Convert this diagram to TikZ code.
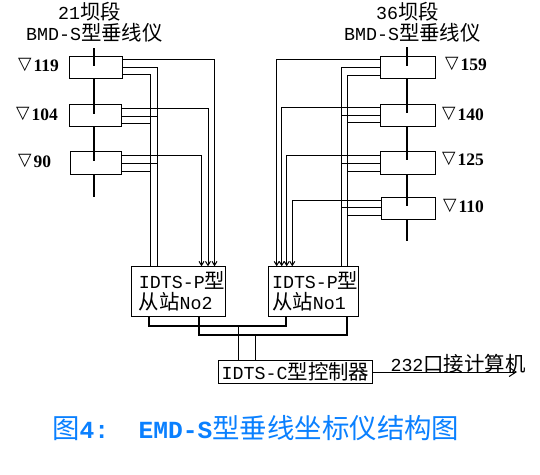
\documentclass[tikz,border=0pt]{standalone}
\usepackage{fontspec}
\setmainfont{Liberation Mono}
\newfontfamily\zhfont[Scale=1.115]{Noto Sans CJK SC}
\newfontfamily\levelfont{Liberation Serif}
\newfontfamily\trifont{DejaVu Sans}
\newcommand{\zh}[1]{{\zhfont #1}}
\newcommand{\lvl}[1]{\raisebox{1.5pt}{\trifont\symbol{"25BD}}\hspace{2pt}{\levelfont\bfseries #1}}
\usetikzlibrary{arrows.meta}
\definecolor{capblue}{RGB}{10,128,255}
\tikzset{
    txt/.style={inner sep=0pt, font=\fontsize{18.3}{21}\selectfont},
    level/.style={inner sep=0pt, font=\fontsize{17.5}{20}\selectfont},
    sensor/.style={draw, line width=1pt, inner sep=0pt, outer sep=0pt, minimum width=53pt, minimum height=22pt},
    station/.style={draw, line width=1pt, inner sep=0pt, outer sep=0pt, minimum height=50pt, align=left, font=\fontsize{18.3}{21}\selectfont},
    spine/.style={line width=2pt},
    wire/.style={line width=1pt},
    sink/.style={wire, -{Straight Barb[length=4pt,width=5pt]}},
    bus/.style={line width=2pt},
}
\begin{document}
\begin{tikzpicture}[x=1pt, y=-1pt]
    \useasboundingbox (0,0) rectangle (540,474);

    % headings
    \node[txt] (headLa) at (89.5,12) {21\zh{坝段}};
    \node[txt] (headLb) at (94.5,33) {BMD-S\zh{型垂线仪}};
    \node[txt] (headRa) at (407.5,12) {36\zh{坝段}};
    \node[txt] (headRb) at (412.5,33) {BMD-S\zh{型垂线仪}};

    % sensor boxes, 21
    \node[sensor] (s119) at (96,67.3) {};
    \node[sensor, minimum width=52pt] (s104) at (95.5,115.3) {};
    \node[sensor, minimum width=51pt, minimum height=23pt] (s90) at (96,162.8) {};

    % sensor boxes, 36
    \node[sensor, minimum width=55pt] (s159) at (408,67.3) {};
    \node[sensor, minimum width=55pt] (s140) at (408,115.3) {};
    \node[sensor, minimum width=55pt, minimum height=23pt] (s125) at (408,162.8) {};
    \node[sensor, minimum width=54pt] (s110) at (408.3,208.3) {};

    % level labels
    \node[level, anchor=west] (l119) at (18,65) {\lvl{119}};
    \node[level, anchor=west] (l104) at (16,114) {\lvl{104}};
    \node[level, anchor=west] (l90) at (18,161) {\lvl{90}};
    \node[level, anchor=west] (l159) at (445,64) {\lvl{159}};
    \node[level, anchor=west] (l140) at (442,114) {\lvl{140}};
    \node[level, anchor=west] (l125) at (442,159) {\lvl{125}};
    \node[level, anchor=west] (l110) at (443,206) {\lvl{110}};

    % stations and controller
    \node[station, minimum width=94.5pt] (no2) at (178.5,291.3) {\hspace{7pt}IDTS-P\zh{型}\hspace{3pt}\\\hspace{7pt}\zh{从站}No2};
    \node[station, minimum width=90pt] (no1) at (313.7,291.3) {\hspace{3pt}IDTS-P\zh{型}\\\hspace{3pt}\zh{从站}No1};
    \node[draw, line width=1pt, inner sep=0pt, outer sep=0pt, minimum width=154pt, minimum height=23pt, font=\fontsize{18.3}{21}\selectfont] (ctrl) at (295.5,371.5) {IDTS-C\zh{型控制器}};
    \node[txt] (pc) at (458,364) {232\zh{口接计算机}};
    \coordinate (pcEnd) at (517,372);

    % spines
    \draw[spine] (94,48) -- (94,66) (s119.south -| 94,0) -- (94,114) (s104.south -| 94,0) -- (94,161) (s90.south -| 94,0) -- (94,197);
    \draw[spine] (407,47) -- (407,66) (s159.south -| 407,0) -- (407,113) (s140.south -| 407,0) -- (407,160) (s125.south -| 407,0) -- (407,206) (s110.south -| 407,0) -- (407,241);

    % 21 wires
    \draw[wire] (s119.east |- 0,67.5) -| (no2.north -| 157,0);
    \draw[wire] (s119.east |- 0,74.5) -| (no2.north -| 150.5,0);
    \draw[wire] (s104.east |- 0,116.5) -- (157,116.5);
    \draw[wire] (s104.east |- 0,123.5) -- (150.5,123.5);
    \draw[wire] (s90.east |- 0,163.5) -- (157,163.5);
    \draw[wire] (s90.east |- 0,171) -- (150.5,171);
    \draw[sink] (s119.east |- 0,59.5) -| (no2.north -| 214.5,0);
    \draw[sink] (s104.east |- 0,108.5) -| (no2.north -| 208,0);
    \draw[sink] (s90.east |- 0,155.5) -| (no2.north -| 201.5,0);

    % 36 wires
    \draw[wire] (s159.west |- 0,67.5) -| (no1.north -| 341.7,0);
    \draw[wire] (s159.west |- 0,75.5) -| (no1.north -| 347.3,0);
    \draw[wire] (s140.west |- 0,115) -- (341.7,115);
    \draw[wire] (s140.west |- 0,122.5) -- (347.3,122.5);
    \draw[wire] (s125.west |- 0,163) -- (341.7,163);
    \draw[wire] (s125.west |- 0,171) -- (347.3,171);
    \draw[wire] (s110.west |- 0,207.5) -- (341.7,207.5);
    \draw[wire] (s110.west |- 0,215) -- (347.3,215);
    \draw[sink] (s159.west |- 0,59.5) -| (no1.north -| 276.7,0);
    \draw[sink] (s140.west |- 0,107.5) -| (no1.north -| 281.7,0);
    \draw[sink] (s125.west |- 0,155) -| (no1.north -| 286.7,0);
    \draw[sink] (s110.west |- 0,200.5) -| (no1.north -| 292.3,0);

    % buses
    \draw[bus] (no2.south -| 149,0) |- (286,325.7) -- (no1.south -| 286,0);
    \draw[bus] (no2.south -| 199,0) |- (347.3,334.7) -- (no1.south -| 347.3,0);
    \draw[wire] (238.3,325.7) -- (ctrl.north -| 238.3,0);
    \draw[wire] (255.3,334.7) -- (ctrl.north -| 255.3,0);
    \draw[wire, -{Straight Barb[length=7pt,width=9pt]}] (ctrl.east |- pcEnd) -- (pcEnd);

    % caption
    \node[inner sep=0pt, anchor=west, text=capblue, font=\fontsize{24.6}{28}\selectfont] (caption) at (52,428) {\zh{图}\textbf{4:}\ \ \textbf{EMD-S}\zh{型垂线坐标仪结构图}};
\end{tikzpicture}
\end{document}
